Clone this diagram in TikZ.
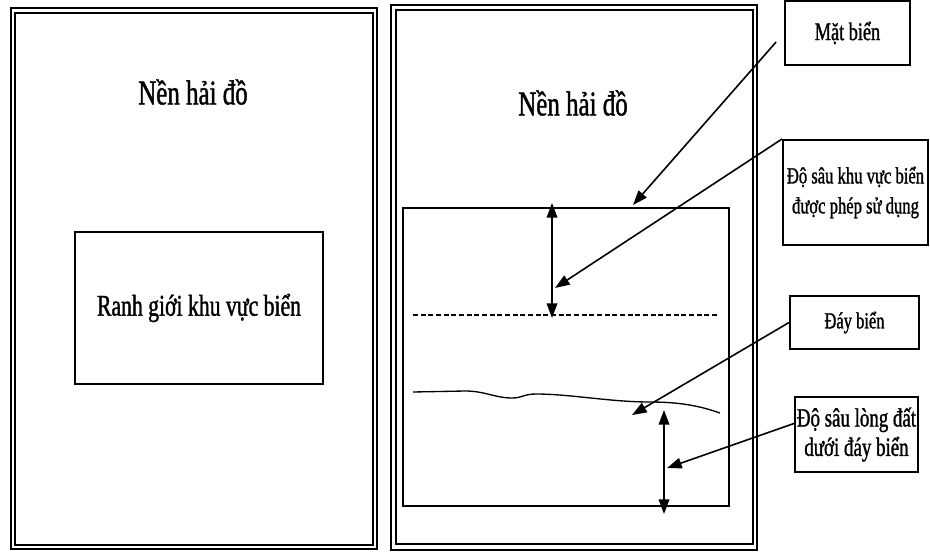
\documentclass[tikz,border=0pt]{standalone}
\usepackage{fontspec}
\setmainfont{Liberation Serif}[FakeStretch=0.72, FakeBold=1.2]
\usepackage{tikz}
\usetikzlibrary{arrows.meta}

\begin{document}
\begin{tikzpicture}[
  x=0.75pt, y=-0.75pt,
  frameout/.style={line width=2.2pt},
  framein/.style={line width=1pt},
  region/.style={line width=1.1pt},
  label/.style={draw, line width=1.5pt, inner sep=0pt, align=center},
  arrow/.style={-{Triangle[length=11pt, width=8pt]}, line width=1.2pt},
  dblarrow/.style={{Triangle[length=11pt, width=8pt]}-{Triangle[length=11pt, width=8pt]}, line width=1.2pt}
]
  \useasboundingbox (0,0) rectangle (930,552);

  % left panel
  \draw[frameout] (11,8) rectangle (377,549);
  \draw[framein] (15,13) rectangle (373,545);
  \node[font=\fontsize{26}{28}\selectfont] (titleL) at (193,92) {Nền hải đồ};
  \node[draw, region, minimum width=186pt, minimum height=114pt, font=\fontsize{22.6}{24}\selectfont] (ranh) at (199,308) {Ranh giới khu vực biển};

  % right panel
  \draw[frameout] (391,5) rectangle (757,550);
  \draw[framein] (396,10) rectangle (753,544);
  \node[font=\fontsize{26}{28}\selectfont] (titleR) at (573,103) {Nền hải đồ};
  \draw[region] (403,208) rectangle (729,506);
  \draw[line width=1.5pt, dash pattern=on 3.75pt off 2pt] (413,315) -- (717,315);
  \draw[line width=1pt] (413,392) -- (465,391) .. controls (485,391) and (495,398) .. (512,398)
    .. controls (522,398) and (524,394) .. (536,394) .. controls (570,394) and (610,402) .. (650,402)
    .. controls (680,402) and (700,406) .. (720,413);

  \coordinate (matTip) at (633,205);
  \coordinate (sauTip) at (555,288);
  \coordinate (dayTip) at (632,415);
  \coordinate (longTip) at (667,468);
  \coordinate (sauTop) at (552,203);
  \coordinate (sauBot) at (552,318);
  \coordinate (longTop) at (664,410);
  \coordinate (longBot) at (664,514);

  % labels
  \node[label, minimum width=93.75pt, minimum height=48pt, font=\fontsize{19}{21}\selectfont] (mat) at (847.5,33) {Mặt biển};
  \node[label, minimum width=108.75pt, minimum height=78.75pt, font=\fontsize{17.3}{22.5}\selectfont] (sau) at (855.5,192.5) {Độ sâu khu vực biển\\được phép sử dụng};
  \node[label, minimum width=96.75pt, minimum height=39.75pt, font=\fontsize{17.2}{19}\selectfont] (day) at (854.5,322.5) {Đáy biển};
  \node[label, minimum width=92.25pt, minimum height=56.25pt, font=\fontsize{19.7}{22}\selectfont] (long) at (856.5,434.5) {Độ sâu lòng đất\\dưới đáy biển};

  \draw[dblarrow] (sauTop) -- (sauBot);
  \draw[dblarrow] (longTop) -- (longBot);
  \draw[arrow, shorten <=9pt] (mat.west) -- (matTip);
  \draw[arrow] (sau.north west) -- (sauTip);
  \draw[arrow] (day.west) -- (dayTip);
  \draw[arrow] (long.170) -- (longTip);
\end{tikzpicture}
\end{document}
